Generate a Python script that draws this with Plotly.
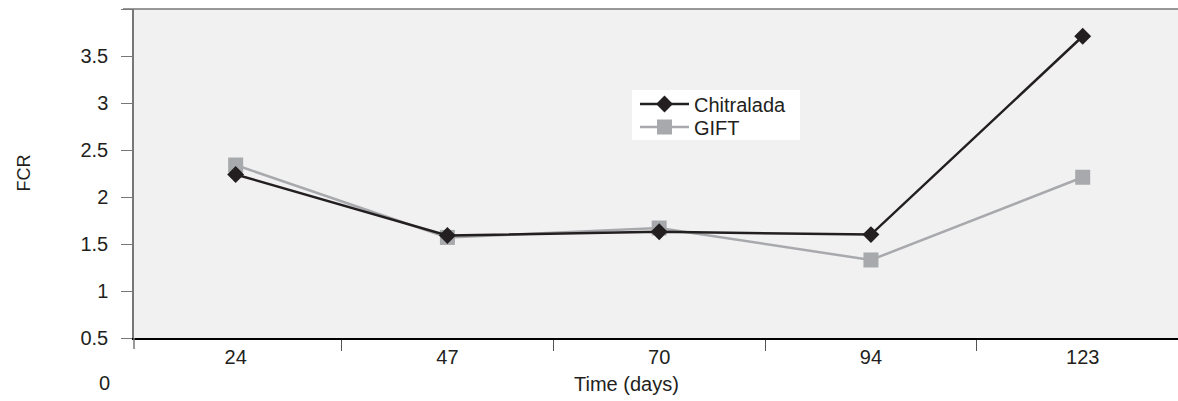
import plotly.graph_objects as go

days = ["24", "47", "70", "94", "123"]
chitralada = [2.24, 1.59, 1.63, 1.60, 3.71]
gift = [2.34, 1.57, 1.67, 1.33, 2.21]
ytick_vals = [0, 0.5, 1, 1.5, 2, 2.5, 3, 3.5, 4]
ytick_text = ["0", "0.5", "1", "1.5", "2", "2.5", "3", "3.5", ""]

FONT = "Arial, Liberation Sans, sans-serif"
DARK = "#231f20"
GRAY = "#a7a9ac"
Y_RANGE = [0.5, 4.0]

# plot area in pixels
L, T, W, H = 134, 9, 1044, 329


def px_to_paper_x(px):
    return (px - L) / W


def px_to_paper_y(py):
    return 1 - (py - T) / H


fig = go.Figure()
fig.add_trace(go.Scatter(
    x=days, y=gift, name="GIFT", mode="lines+markers",
    line=dict(color=GRAY, width=2.5),
    marker=dict(symbol="square", size=15, color=GRAY),
    legend="legend2",
))
fig.add_trace(go.Scatter(
    x=days, y=chitralada, name="Chitralada", mode="lines+markers",
    line=dict(color=DARK, width=2.5),
    marker=dict(symbol="diamond", size=13, color=DARK),
    legend="legend",
))

leg_common = dict(
    xanchor="left", yanchor="middle",
    bgcolor="rgba(0,0,0,0)", borderwidth=0,
    font=dict(size=20, color=DARK),
    itemwidth=49,
)

fig.update_layout(
    width=1178, height=401,
    margin=dict(l=L, r=0, t=T, b=401 - T - H),
    paper_bgcolor="white",
    plot_bgcolor="#f1f1f1",
    font=dict(family=FONT, size=20, color=DARK),
    showlegend=True,
    legend=dict(x=px_to_paper_x(635), y=px_to_paper_y(104), **leg_common),
    legend2=dict(x=px_to_paper_x(635), y=px_to_paper_y(127), **leg_common),
    xaxis=dict(
        type="category",
        range=[-0.48, 4.45],
        tickson="boundaries",
        ticks="outside", ticklen=11, tickcolor="#555555", tickwidth=1,
        showline=True, linecolor="#000000", linewidth=1.5,
        showgrid=False, zeroline=False,
        tickfont=dict(size=20, color=DARK),
    ),
    yaxis=dict(
        range=Y_RANGE,
        tickvals=ytick_vals[1:], ticktext=ytick_text[1:],
        ticks="outside", ticklen=11, tickcolor="#777777", tickwidth=1,
        showline=True, linecolor="#777777", linewidth=1.5,
        showgrid=False, zeroline=False,
        tickfont=dict(size=20, color=DARK),
        ticklabelstandoff=9,
    ),
)

# white legend box
fig.add_shape(type="rect", xref="paper", yref="paper",
              x0=px_to_paper_x(632), x1=px_to_paper_x(800),
              y0=px_to_paper_y(140), y1=px_to_paper_y(90),
              fillcolor="white", line=dict(width=0), layer="below")
# top border of plot area
fig.add_shape(type="line", xref="paper", yref="paper", x0=px_to_paper_x(123), x1=1, y0=1, y1=1,
              line=dict(color="#777777", width=1.5))
# extension of left axis below the category axis
fig.add_shape(type="line", xref="paper", yref="paper", x0=0, x1=0,
              y0=px_to_paper_y(349), y1=0,
              line=dict(color="#777777", width=1.5))

# "0" label below the axis, placed on the value scale
y0_paper = (ytick_vals[0] - Y_RANGE[0]) / (Y_RANGE[1] - Y_RANGE[0])
fig.add_annotation(x=0, xref="paper", y=y0_paper, yref="paper", text=ytick_text[0],
                   showarrow=False, xanchor="right", yanchor="middle", xshift=-22, yshift=2,
                   font=dict(size=20, color=DARK))
# y-axis title
fig.add_annotation(x=px_to_paper_x(23), xref="paper", y=0.5, yref="paper", text="FCR",
                   showarrow=False, textangle=-90, xanchor="center", yanchor="middle",
                   font=dict(size=18, color=DARK))
# x-axis title
fig.add_annotation(x=px_to_paper_x(626), xref="paper", y=px_to_paper_y(384), yref="paper",
                   text="Time (days)", showarrow=False, xanchor="center", yanchor="middle",
                   font=dict(size=20, color=DARK))

fig.write_html("out.html")
